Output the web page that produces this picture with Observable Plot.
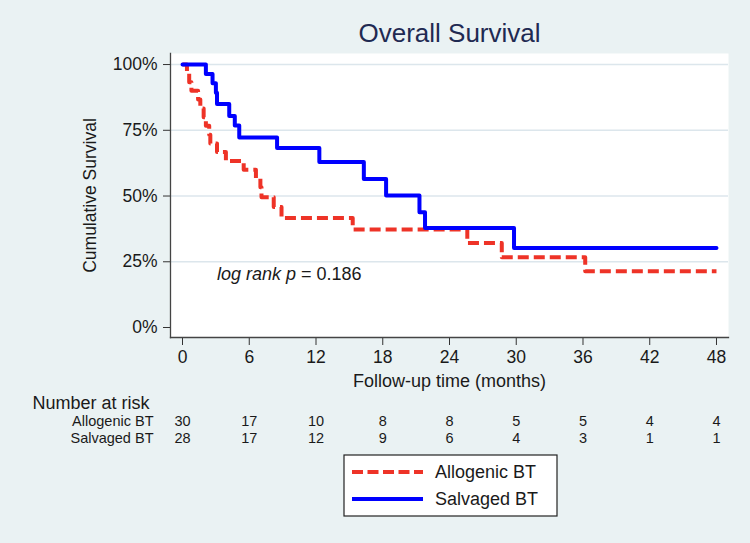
<!DOCTYPE html>
<html><head><meta charset="utf-8">
<script src="https://cdn.jsdelivr.net/npm/d3@7"></script>
<script src="https://cdn.jsdelivr.net/npm/@observablehq/plot@0.6"></script>
<style>
html,body{margin:0;padding:0;background:#eaf2f3;}
#chart{width:750px;height:543px;}
</style></head><body><div id="chart"></div>
<script>
// ---- data ----
const allogenicTime = [0, 0.4, 0.6, 0.8, 1.4, 1.6, 1.9, 2.1, 2.4, 2.5, 3.1, 3.9, 5.5, 6.6, 7.0, 7.1, 8.2, 8.9, 15.3, 25.6, 28.7, 36.2, 48];
const allogenicSurv = [100, 96.7, 93.3, 90.0, 86.7, 83.3, 80.0, 76.7, 73.3, 70.0, 66.7, 63.3, 60.0, 56.7, 53.3, 49.5, 45.8, 41.6, 37.3, 32.1, 26.7, 21.4, 21.4];
const salvagedTime = [0, 2.1, 2.7, 3.0, 3.1, 4.2, 4.7, 5.1, 8.5, 12.3, 16.3, 18.3, 21.3, 21.8, 29.8, 48];
const salvagedSurv = [100, 96.4, 92.9, 89.3, 85.0, 80.4, 76.8, 72.3, 68.3, 62.9, 56.5, 50.2, 43.8, 37.8, 30.2, 30.2];
const groups = ["Allogenic BT", "Salvaged BT"];
const riskTimes = [0, 6, 12, 18, 24, 30, 36, 42, 48];
const riskAllogenic = [30, 17, 10, 8, 8, 5, 5, 4, 4];
const riskSalvaged = [28, 17, 12, 9, 6, 4, 3, 1, 1];
const yTicks = [0, 25, 50, 75, 100];
const titleText = "Overall Survival";
const xLabel = "Follow-up time (months)";
const yLabel = "Cumulative Survival";
const riskTitle = "Number at risk";
const pLabelItalic = "log rank p";
const pLabelRest = " = 0.186";
const pPos = [3.1, 20.2];

// ---- build tables ----
const allo = allogenicTime.map((t, i) => ({t, s: allogenicSurv[i]}));
const salv = salvagedTime.map((t, i) => ({t, s: salvagedSurv[i]}));
const riskA = riskTimes.map((t, i) => ({t, n: riskAllogenic[i]}));
const riskS = riskTimes.map((t, i) => ({t, n: riskSalvaged[i]}));

const font = "'Liberation Sans', Arial, Helvetica, sans-serif";
const red = "#ee3327", blue = "#0000ff", ink = "#1a1a1a";
const W = 750, H = 543, mL = 170, mR = 22, mT = 53, mB = 206;
const mid = {lineAnchor: "middle"};

const chart = Plot.plot({
  width: W, height: H,
  marginLeft: mL, marginRight: mR, marginTop: mT, marginBottom: mB,
  style: {background: "#eaf2f3", fontFamily: font, color: ink, overflow: "visible"},
  x: {domain: [-1.08, 49.08]},
  y: {domain: [-3.8, 104.2]},
  marks: [
    Plot.frame({fill: "white", stroke: null}),
    Plot.gridY(yTicks.filter(d => d > 0), {stroke: "#dce6ec", strokeOpacity: 1, strokeWidth: 1.5}),
    Plot.line(allo, {x: "t", y: "s", curve: "step-after", stroke: red, strokeWidth: 4, strokeDasharray: "11,5", strokeLinecap: "butt"}),
    Plot.line(salv, {x: "t", y: "s", curve: "step-after", stroke: blue, strokeWidth: 4}),
    Plot.axisY({ticks: yTicks, tickFormat: d => d + "%", tickSize: 7, tickPadding: 6, fontSize: 17.5, label: null, stroke: "#333"}),
    Plot.axisX({ticks: riskTimes, tickSize: 8, tickPadding: 5, fontSize: 17.5, label: null, stroke: "#333"}),
    Plot.frame({anchor: "left", stroke: "#444", strokeWidth: 1.3}),
    Plot.frame({anchor: "bottom", stroke: "#444", strokeWidth: 1.3}),
    Plot.text([pLabelItalic + pLabelRest], {x: () => pPos[0], y: () => pPos[1], text: d => d, textAnchor: "start", fontSize: 18, fill: ink, className: "lr", ...mid}),
    Plot.text([titleText], {text: d => d, frameAnchor: "top", dy: -20, fontSize: 26, fill: "#1f2a52", ...mid}),
    Plot.text([xLabel], {text: d => d, frameAnchor: "bottom", dy: 44, fontSize: 18, fill: ink, ...mid}),
    Plot.text([yLabel], {text: d => d, frameAnchor: "left", dx: -80, rotate: -90, textAnchor: "middle", fontSize: 17.5, fill: ink, ...mid}),
    Plot.text([riskTitle], {text: d => d, frameAnchor: "bottom-left", dx: -138, dy: 66, textAnchor: "start", fontSize: 18, fill: ink, ...mid}),
    Plot.text([groups[0]], {text: d => d, frameAnchor: "bottom-left", dx: -17, dy: 84, textAnchor: "end", fontSize: 14.5, fill: ink, ...mid}),
    Plot.text([groups[1]], {text: d => d, frameAnchor: "bottom-left", dx: -17, dy: 101, textAnchor: "end", fontSize: 14.5, fill: ink, ...mid}),
    Plot.text(riskA, {x: "t", text: "n", frameAnchor: "bottom", dy: 84, fontSize: 14.5, fill: ink, ...mid}),
    Plot.text(riskS, {x: "t", text: "n", frameAnchor: "bottom", dy: 101, fontSize: 14.5, fill: ink, ...mid})
  ]
});

// italic part of the annotation
d3.select(chart).selectAll(".lr text").each(function() {
  const t = d3.select(this);
  t.text(null);
  t.append("tspan").attr("font-style", "italic").text(pLabelItalic);
  t.append("tspan").text(pLabelRest);
});

// legend
const svg = d3.select(chart);
const lg = svg.append("g").attr("font-family", font).attr("text-anchor", "start");
lg.append("rect").attr("x", 344).attr("y", 455).attr("width", 213).attr("height", 61)
  .attr("fill", "white").attr("stroke", "#222").attr("stroke-width", 1.2);
[[groups[0], red, "11,4.5"], [groups[1], blue, null]].forEach(([name, col, dash], i) => {
  const y = 472 + i * 27;
  lg.append("line").attr("x1", 352).attr("x2", 423).attr("y1", y).attr("y2", y)
    .attr("stroke", col).attr("stroke-width", 4).attr("stroke-dasharray", dash);
  lg.append("text").attr("x", 435).attr("y", y).attr("dy", "0.35em")
    .attr("font-size", 18).attr("fill", ink).attr("text-anchor", "start").text(name);
});

document.getElementById("chart").appendChild(chart);
</script>
</body></html>
